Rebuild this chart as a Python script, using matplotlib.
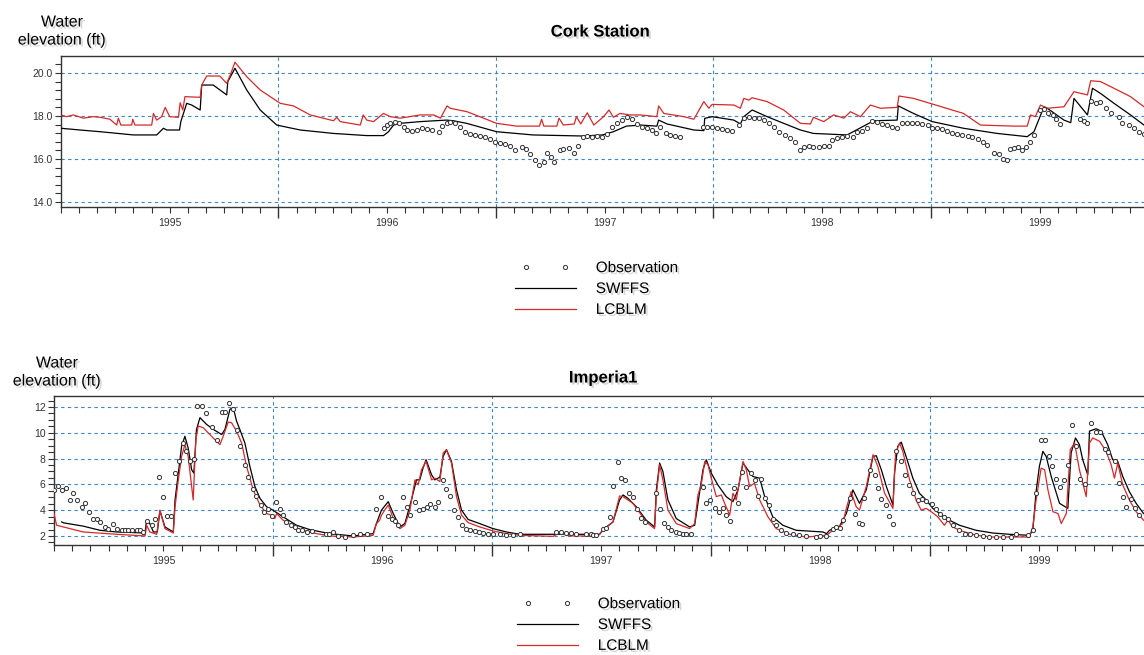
import numpy as np
import matplotlib.pyplot as plt
import matplotlib.patheffects as pe
from matplotlib.ticker import FixedLocator, FuncFormatter, MultipleLocator
from matplotlib.legend_handler import HandlerLine2D

plt.rcParams['font.family'] = ['Liberation Sans', 'DejaVu Sans']

# x values are years since 1995-01-01
# ---- Cork Station ----
cork_swffs_yr = [0, .087, .18, .333, .44, .471, .486, .545, .551, .578, .601, .64, .647, .70, .762, .767,
                 .80, .854, .916, .992, 1.10, 1.253, 1.406, 1.483, 1.506, 1.529, 1.56, 1.652, 1.773, 1.804,
                 1.865, 2.003, 2.17, 2.40, 2.49, 2.54, 2.60, 2.664, 2.74, 2.748, 2.787, 2.91, 2.956, 2.96,
                 2.994, 3.094, 3.124, 3.14, 3.178, 3.247, 3.323, 3.40, 3.46, 3.615, 3.737, 3.845, 3.85,
                 3.92, 4.006, 4.15, 4.305, 4.443, 4.474, 4.52, 4.535, 4.612, 4.643, 4.658, 4.72, 4.743,
                 4.78, 4.842, 4.918, 4.98]
cork_swffs = [17.43, 17.35, 17.27, 17.12, 17.12, 17.43, 17.35, 17.35, 17.74, 18.59, 18.51, 18.28, 19.44,
              19.44, 18.98, 19.6, 20.22, 19.21, 18.28, 17.58, 17.35, 17.19, 17.09, 17.09, 17.27, 17.58,
              17.66, 17.74, 17.81, 17.78, 17.66, 17.27, 17.12, 17.07, 17.12, 17.27, 17.53, 17.58, 17.53,
              17.81, 17.63, 17.35, 17.32, 17.89, 17.97, 17.81, 17.63, 17.97, 18.28, 17.97, 17.66, 17.35,
              17.19, 17.12, 17.78, 17.81, 18.47, 18.12, 17.74, 17.43, 17.19, 17.04, 17.27, 18.43, 18.36,
              17.81, 17.69, 18.82, 18.05, 19.29, 19.05, 18.59, 18.05, 17.58]

cork_lcblm_yr = [0, .026, .057, .103, .149, .18, .225, .256, .264, .275, .325, .33, .34, .417, .425, .44,
                 .463, .479, .50, .54, .548, .56, .57, .64, .647, .67, .73, .762, .778, .80, .854, .916,
                 1.008, 1.069, 1.146, 1.253, 1.268, 1.284, 1.376, 1.39, 1.406, 1.437, 1.483, 1.514, 1.56,
                 1.652, 1.714, 1.745, 1.775, 1.79, 1.867, 1.943, 2.003, 2.095, 2.20, 2.21, 2.22, 2.28,
                 2.29, 2.31, 2.36, 2.37, 2.39, 2.42, 2.45, 2.495, 2.52, 2.54, 2.57, 2.618, 2.664, 2.74,
                 2.748, 2.772, 2.864, 2.91, 2.956, 2.979, 2.994, 3.094, 3.124, 3.14, 3.163, 3.178, 3.247,
                 3.323, 3.40, 3.446, 3.46, 3.507, 3.553, 3.60, 3.63, 3.676, 3.722, 3.768, 3.845, 3.853,
                 3.92, 4.006, 4.15, 4.228, 4.38, 4.443, 4.458, 4.48, 4.504, 4.535, 4.612, 4.658, 4.72,
                 4.735, 4.78, 4.842, 4.918, 4.98]
cork_lcblm = [18.05, 17.97, 18.05, 17.9, 17.97, 17.94, 17.85, 17.58, 17.9, 17.58, 17.58, 17.85, 17.58,
              17.58, 18.12, 17.81, 17.97, 18.4, 17.97, 17.94, 18.62, 18.28, 18.9, 18.87, 19.44, 19.86,
              19.86, 19.52, 19.9, 20.5, 19.83, 19.21, 18.59, 18.47, 18.05, 17.78, 17.94, 17.74, 17.58,
              18.05, 17.81, 17.74, 18.12, 17.97, 17.9, 18.05, 18.05, 17.9, 18.47, 18.36, 18.2, 17.9,
              17.66, 17.53, 17.53, 17.85, 17.53, 17.53, 17.9, 17.58, 17.63, 17.97, 17.63, 18.15, 17.58,
              17.97, 18.28, 17.94, 18.12, 18.05, 18.05, 17.97, 18.47, 18.12, 17.97, 17.85, 18.67, 18.36,
              18.54, 18.51, 18.36, 18.82, 18.74, 18.85, 18.67, 18.28, 17.66, 17.63, 17.94, 17.74, 18.05,
              17.9, 18.2, 17.97, 18.51, 18.36, 18.4, 18.93, 18.82, 18.56, 18.12, 17.58, 17.53, 17.53,
              18.05, 17.97, 18.51, 18.36, 18.43, 19.13, 18.98, 19.64, 19.6, 19.29, 18.9, 18.43]

cork_obs_yr = [1.483, 1.498, 1.514, 1.537, 1.553, 1.575, 1.59, 1.614, 1.637, 1.66, 1.683, 1.706, 1.737,
               1.752, 1.775, 1.79, 1.813, 1.836, 1.859, 1.882, 1.905, 1.928, 1.951, 1.974, 1.997, 2.02,
               2.043, 2.066, 2.089, 2.12, 2.14, 2.158, 2.18, 2.2, 2.22, 2.235, 2.253, 2.268, 2.293, 2.31,
               2.334, 2.357, 2.376, 2.40, 2.42, 2.44, 2.465, 2.488, 2.51, 2.534, 2.557, 2.58, 2.603, 2.626,
               2.65, 2.672, 2.695, 2.718, 2.738, 2.756, 2.78, 2.80, 2.825, 2.848, 2.952, 2.97, 2.994,
               3.017, 3.04, 3.063, 3.086, 3.117, 3.14, 3.163, 3.186, 3.209, 3.232, 3.255, 3.278, 3.30,
               3.331, 3.354, 3.377, 3.397, 3.415, 3.438, 3.46, 3.485, 3.507, 3.53, 3.546, 3.57, 3.59,
               3.615, 3.64, 3.66, 3.685, 3.707, 3.73, 3.753, 3.776, 3.80, 3.822, 3.845, 3.868, 3.89,
               3.915, 3.938, 3.96, 3.985, 4.006, 4.03, 4.05, 4.075, 4.098, 4.12, 4.145, 4.17, 4.19, 4.215,
               4.238, 4.26, 4.29, 4.313, 4.333, 4.35, 4.364, 4.38, 4.4, 4.42, 4.438, 4.455, 4.476, 4.5,
               4.518, 4.54, 4.562, 4.577, 4.595, 4.688, 4.703, 4.72, 4.738, 4.757, 4.777, 4.804, 4.827,
               4.865, 4.88, 4.91, 4.933, 4.956, 4.98]
cork_obs = [17.43, 17.58, 17.69, 17.74, 17.69, 17.5, 17.35, 17.32, 17.35, 17.43, 17.38, 17.35, 17.24,
            17.53, 17.66, 17.74, 17.66, 17.47, 17.27, 17.16, 17.12, 17.07, 17.01, 16.91, 16.81, 16.76,
            16.7, 16.62, 16.42, 16.57, 16.45, 16.23, 15.95, 15.72, 15.88, 16.29, 16.11, 15.88, 16.42,
            16.45, 16.5, 16.26, 16.62, 17.01, 17.07, 17.04, 17.07, 17.04, 17.16, 17.47, 17.69, 17.81,
            17.94, 17.84, 17.63, 17.5, 17.43, 17.35, 17.19, 17.47, 17.22, 17.12, 17.07, 17.04, 17.5,
            17.5, 17.47, 17.43, 17.38, 17.35, 17.32, 17.58, 17.89, 17.97, 17.92, 17.89, 17.81, 17.66,
            17.47, 17.27, 17.12, 16.96, 16.81, 16.42, 16.57, 16.6, 16.57, 16.57, 16.6, 16.6, 16.88,
            16.96, 17.01, 17.07, 17.04, 17.27, 17.32, 17.43, 17.78, 17.74, 17.63, 17.58, 17.5, 17.43,
            17.66, 17.66, 17.66, 17.66, 17.63, 17.58, 17.43, 17.43, 17.38, 17.32, 17.22, 17.16, 17.12,
            17.07, 17.01, 16.91, 16.81, 16.65, 16.26, 16.23, 15.98, 15.95, 16.45, 16.5, 16.54, 16.42,
            16.57, 16.81, 17.12, 18.28, 18.31, 18.16, 18.05, 17.84, 17.63, 17.84, 17.78, 17.69, 18.71,
            18.62, 18.67, 18.36, 18.12, 17.94, 17.69, 17.58, 17.43, 17.27, 17.16]

# ---- Imperia1 ----
imp_swffs_yr = [.035, .043, .134, .21, .286, .408, .416, .423, .438, .454, .472, .484, .507, .545, .553,
                .568, .583, .598, .613, .629, .639, .651, .667, .697, .728, .766, .781, .804, .819, .834,
                .849, .872, .895, .918, .941, .971, 1.0, 1.047, 1.108, 1.169, 1.26, 1.367, 1.458, 1.473,
                1.496, 1.527, 1.55, 1.58, 1.603, 1.633, 1.656, 1.671, 1.686, 1.70, 1.725, 1.74, 1.763,
                1.778, 1.793, 1.816, 1.839, 1.862, 1.892, 1.945, 2.006, 2.067, 2.128, 2.493, 2.508, 2.554,
                2.584, 2.60, 2.622, 2.66, 2.706, 2.744, 2.752, 2.767, 2.782, 2.805, 2.843, 2.904, 2.927,
                2.942, 2.965, 2.98, 3.003, 3.033, 3.071, 3.102, 3.125, 3.148, 3.17, 3.193, 3.224, 3.247,
                3.284, 3.33, 3.391, 3.513, 3.53, 3.543, 3.589, 3.62, 3.65, 3.68, 3.711, 3.742, 3.757,
                3.78, 3.803, 3.833, 3.84, 3.855, 3.871, 3.893, 3.924, 3.954, 3.985, 4.015, 4.076, 4.137,
                4.213, 4.289, 4.365, 4.456, 4.472, 4.487, 4.502, 4.518, 4.533, 4.556, 4.594, 4.632, 4.647,
                4.667, 4.685, 4.7, 4.723, 4.731, 4.761, 4.784, 4.814, 4.837, 4.86, 4.883, 4.913, 4.944,
                4.978]
imp_swffs = [3.09, 3.02, 2.76, 2.44, 2.31, 2.23, 2.23, 3.22, 2.96, 2.31, 2.31, 3.95, 2.70, 2.31, 4.79,
             6.87, 8.95, 9.73, 8.82, 7.13, 6.87, 10.26, 11.17, 10.65, 10.26, 9.86, 10.26, 11.82, 11.95,
             10.91, 10.26, 9.21, 7.39, 5.83, 4.92, 4.27, 4.0, 3.48, 2.83, 2.49, 2.18, 2.0, 2.18, 2.96,
             4.0, 4.66, 3.74, 2.70, 2.96, 4.79, 6.35, 6.35, 7.26, 7.91, 6.74, 6.35, 6.56, 8.17, 8.69,
             7.78, 5.57, 4.0, 3.28, 2.96, 2.57, 2.31, 2.13, 2.13, 2.49, 3.09, 4.79, 5.18, 4.92, 4.27,
             3.22, 2.70, 5.57, 7.65, 7.0, 4.79, 3.35, 2.70, 2.83, 4.53, 7.13, 7.91, 6.87, 5.96, 5.05,
             4.66, 5.57, 7.65, 7.13, 6.61, 6.48, 5.05, 3.48, 2.83, 2.44, 2.31, 2.18, 2.44, 2.76, 3.74,
             5.57, 4.53, 5.57, 8.17, 8.22, 7.13, 5.83, 4.40, 6.87, 8.95, 9.27, 8.17, 6.48, 5.31, 4.79,
             4.14, 3.35, 2.83, 2.44, 2.23, 2.13, 2.05, 2.44, 5.44, 7.39, 8.56, 8.17, 6.61, 4.53, 4.14,
             8.43, 9.60, 9.08, 7.91, 6.74, 10.13, 10.31, 10.13, 9.08, 7.91, 7.78, 6.61, 5.44, 4.53, 3.74]

imp_lcblm_yr = [0, .012, .043, .134, .286, .416, .423, .438, .469, .484, .507, .545, .553, .568, .583,
                .598, .613, .629, .636, .648, .659, .682, .712, .735, .758, .773, .796, .811, .834, .857,
                .88, .91, .941, .971, .994, 1.009, 1.017, 1.047, 1.108, 1.199, 1.26, 1.367, 1.458, 1.473,
                1.488, 1.496, 1.511, 1.527, 1.55, 1.58, 1.603, 1.626, 1.649, 1.664, 1.679, 1.70, 1.725,
                1.74, 1.763, 1.778, 1.793, 1.816, 1.839, 1.862, 1.892, 1.945, 2.006, 2.067, 2.128, 2.28,
                2.31, 2.356, 2.486, 2.508, 2.554, 2.584, 2.60, 2.645, 2.706, 2.744, 2.752, 2.767, 2.782,
                2.805, 2.843, 2.904, 2.927, 2.942, 2.957, 2.973, 2.988, 3.003, 3.026, 3.049, 3.064, 3.087,
                3.102, 3.117, 3.14, 3.148, 3.163, 3.178, 3.2, 3.224, 3.262, 3.30, 3.361, 3.437, 3.53,
                3.558, 3.604, 3.62, 3.642, 3.665, 3.68, 3.711, 3.742, 3.764, 3.795, 3.833, 3.845, 3.863,
                3.878, 3.909, 3.939, 3.962, 3.985, 4.008, 4.038, 4.068, 4.084, 4.106, 4.137, 4.213, 4.289,
                4.456, 4.472, 4.487, 4.510, 4.526, 4.541, 4.564, 4.587, 4.602, 4.625, 4.643, 4.663, 4.685,
                4.716, 4.731, 4.746, 4.777, 4.807, 4.83, 4.845, 4.86, 4.883, 4.913, 4.944, 4.978]
imp_lcblm = [3.74, 2.83, 2.70, 2.31, 2.13, 2.0, 2.83, 2.31, 2.13, 4.0, 2.57, 2.23, 4.27, 6.35, 8.17,
             9.08, 8.17, 5.83, 4.79, 9.47, 10.52, 10.39, 9.86, 9.47, 9.08, 9.73, 10.83, 10.78, 10.13,
             9.21, 7.39, 5.57, 4.40, 3.74, 3.61, 3.35, 3.74, 3.22, 2.57, 2.18, 2.0, 1.92, 2.05, 2.96,
             3.22, 3.61, 4.0, 4.40, 3.35, 2.57, 2.83, 4.0, 6.35, 5.96, 7.13, 7.78, 6.35, 6.48, 6.22,
             8.43, 8.69, 7.65, 5.05, 3.61, 3.04, 2.70, 2.39, 2.18, 2.05, 1.97, 2.23, 2.0, 2.0, 2.44,
             3.09, 5.10, 5.05, 4.53, 3.09, 2.57, 5.18, 7.52, 6.35, 4.0, 2.96, 2.57, 2.96, 5.18, 5.96,
             7.78, 7.52, 6.48, 5.05, 5.18, 4.53, 3.61, 5.31, 4.79, 7.0, 7.78, 7.13, 5.83, 6.09, 4.79,
             3.48, 2.57, 2.13, 1.92, 2.05, 2.44, 2.96, 4.14, 5.44, 4.27, 4.0, 5.83, 8.30, 7.39, 5.31,
             4.14, 8.43, 9.21, 8.56, 6.35, 4.79, 4.0, 4.14, 3.88, 3.48, 2.83, 3.22, 2.70, 2.44, 2.05,
             1.92, 1.92, 2.70, 4.79, 7.26, 7.13, 5.57, 3.88, 3.74, 2.96, 3.74, 8.69, 9.21, 7.13, 5.05,
             9.21, 9.60, 9.34, 8.56, 7.52, 6.48, 7.65, 5.96, 4.79, 3.88, 3.22]

imp_obs_yr = [0, .02, .035, .055, .073, .088, .107, .126, .142, .161, .18, .195, .21, .233, .248, .268,
              .286, .309, .324, .339, .355, .377, .393, .408, .426, .446, .461, .478, .499, .514, .533,
              .553, .572, .588, .603, .621, .639, .654, .674, .694, .72, .743, .766, .781, .80, .816,
              .834, .849, .872, .887, .907, .925, .944, .959, .979, .997, 1.014, 1.032, 1.047, 1.062,
              1.085, 1.10, 1.116, 1.131, 1.154, 1.177, 1.245, 1.257, 1.275, 1.297, 1.328, 1.367, 1.397,
              1.428, 1.473, 1.493, 1.527, 1.542, 1.557, 1.572, 1.595, 1.613, 1.628, 1.651, 1.668, 1.686,
              1.702, 1.72, 1.74, 1.755, 1.775, 1.793, 1.81, 1.826, 1.846, 1.866, 1.884, 1.902, 1.922,
              1.942, 1.96, 1.983, 2.006, 2.037, 2.067, 2.097, 2.128, 2.295, 2.318, 2.341, 2.364, 2.384,
              2.432, 2.455, 2.463, 2.475, 2.508, 2.524, 2.539, 2.554, 2.577, 2.592, 2.608, 2.627, 2.645,
              2.664, 2.683, 2.699, 2.749, 2.767, 2.785, 2.805, 2.82, 2.84, 2.855, 2.874, 2.889, 2.912,
              2.965, 2.98, 2.995, 3.018, 3.037, 3.056, 3.071, 3.09, 3.105, 3.125, 3.145, 3.163, 3.186,
              3.204, 3.216, 3.231, 3.249, 3.266, 3.284, 3.30, 3.323, 3.346, 3.376, 3.406, 3.437, 3.483,
              3.498, 3.528, 3.559, 3.574, 3.589, 3.604, 3.635, 3.658, 3.68, 3.693, 3.703, 3.726, 3.749,
              3.764, 3.779, 3.799, 3.817, 3.833, 3.848, 3.871, 3.886, 3.906, 3.924, 3.947, 3.967, 3.982,
              4.012, 4.03, 4.046, 4.068, 4.084, 4.106, 4.134, 4.16, 4.183, 4.213, 4.244, 4.274, 4.304,
              4.335, 4.373, 4.396, 4.449, 4.472, 4.487, 4.51, 4.526, 4.545, 4.56, 4.579, 4.597, 4.614,
              4.632, 4.652, 4.67, 4.686, 4.709, 4.739, 4.759, 4.777, 4.8, 4.815, 4.846, 4.865, 4.886,
              4.899, 4.922, 4.937, 4.957]
imp_obs = [5.57, 5.88, 5.57, 5.70, 4.79, 5.31, 4.79, 4.21, 4.58, 3.82, 3.35, 3.28, 3.09, 2.70, 2.57,
           2.96, 2.57, 2.49, 2.44, 2.49, 2.44, 2.44, 2.44, 2.31, 3.17, 2.83, 3.35, 6.56, 4.99, 3.54, 3.54,
           6.87, 7.78, 9.21, 8.61, 7.78, 7.96, 12.08, 12.08, 11.56, 10.46, 9.47, 11.61, 11.61, 12.34,
           11.82, 10.18, 9.0, 7.52, 6.56, 5.65, 5.10, 4.40, 3.88, 4.08, 3.54, 4.66, 4.06, 3.61, 3.09,
           2.83, 2.70, 2.49, 2.44, 2.31, 2.39, 2.13, 2.13, 2.31, 1.97, 1.92, 2.05, 2.13, 2.13, 4.06,
           4.99, 3.54, 3.28, 3.17, 2.83, 4.99, 4.27, 3.61, 4.66, 4.0, 4.06, 4.21, 4.47, 4.21, 4.66, 6.35,
           5.62, 5.10, 4.0, 3.48, 2.83, 2.57, 2.44, 2.39, 2.31, 2.23, 2.13, 2.13, 2.13, 2.05, 2.05, 2.13,
           2.31, 2.31, 2.23, 2.23, 2.18, 2.13, 2.13, 2.05, 2.05, 2.57, 2.65, 3.48, 5.91, 7.70, 6.48,
           6.30, 5.31, 4.99, 4.06, 3.43, 3.09, 5.36, 4.06, 3.02, 2.70, 2.49, 2.31, 2.23, 2.13, 2.13,
           2.13, 5.83, 4.53, 4.79, 4.14, 3.88, 4.19, 3.61, 3.17, 5.70, 4.53, 6.92, 5.78, 6.87, 6.35,
           5.10, 6.40, 4.92, 4.40, 3.35, 2.83, 2.44, 2.23, 2.13, 2.05, 2.0, 1.92, 2.0, 2.0, 2.57, 2.70,
           2.63, 3.22, 4.92, 3.69, 3.02, 2.96, 4.92, 7.13, 6.74, 5.70, 4.84, 4.40, 3.54, 2.96, 8.56,
           7.78, 6.74, 5.96, 5.31, 4.79, 4.84, 4.73, 4.47, 4.06, 3.74, 3.48, 3.35, 2.83, 2.49, 2.18,
           2.13, 2.05, 1.97, 1.92, 1.92, 1.92, 1.92, 2.18, 2.05, 2.44, 5.36, 9.47, 9.47, 8.22, 7.39,
           6.40, 5.83, 6.35, 7.52, 10.57, 9.0, 6.40, 6.01, 10.78, 10.05, 10.05, 8.74, 8.48, 7.83, 6.09,
           5.05, 4.27, 4.84, 4.14, 3.61]

years = [1995, 1996, 1997, 1998, 1999]
series_names = ['Observation', 'SWFFS', 'LCBLM']

W, H = 1144, 655
fig = plt.figure(figsize=(W / 100, H / 100), dpi=100)

shadow = [pe.withSimplePatchShadow(offset=(1.5, -1.5), shadow_rgbFace='#888888', alpha=0.35)]
grid_kw = dict(color='#3d85c6', linestyle=(0, (3, 3)), linewidth=0.8)


def panel(rect, title, obs_t, obs_v, sw_t, sw_v, lc_t, lc_v, ylim, ymajor, yminor, fmt,
          title_xy, ylab_xy, leg_xy):
    ax = fig.add_axes(rect)
    ax.plot(1995 + np.array(sw_t), sw_v, color='black', lw=0.9, label=series_names[1], zorder=3)
    ax.plot(1995 + np.array(lc_t), lc_v, color='#d42a2a', lw=0.9, label=series_names[2], zorder=4)
    obs, = ax.plot(1995 + np.array(obs_t), obs_v, ls='none', marker='o', ms=3.0, mfc='white',
                   mec='#333333', mew=0.7, label=series_names[0], zorder=5)
    ax.set_xlim(1995, 1999.98)
    ax.set_ylim(*ylim)

    ax.xaxis.set_major_locator(FixedLocator(years[1:]))
    ax.xaxis.set_minor_locator(FixedLocator(1995 + np.arange(61) / 12))
    ax.xaxis.set_major_formatter(FuncFormatter(lambda v, p: ''))
    ax.xaxis.set_minor_formatter(FuncFormatter(
        lambda v, p: str(int(v)) if abs(v - int(v) - 0.5) < 1e-6 else ''))
    ax.tick_params(axis='x', which='major', length=8, width=1, direction='out', color='#333333')
    ax.tick_params(axis='x', which='minor', length=4, width=0.8, direction='out', color='#333333',
                   labelsize=7.5, pad=4, labelcolor='#333333')
    ax.yaxis.set_major_locator(MultipleLocator(ymajor))
    ax.yaxis.set_minor_locator(MultipleLocator(yminor))
    ax.yaxis.set_major_formatter(FuncFormatter(lambda v, p: fmt.format(v)))
    ax.tick_params(axis='y', which='both', length=4, width=0.8, direction='out', color='#333333',
                   labelsize=7.5, labelcolor='#333333', pad=2)
    ax.grid(True, which='major', **grid_kw)
    for s in ['top', 'left', 'bottom']:
        ax.spines[s].set_color('#333333')
        ax.spines[s].set_linewidth(1)
    ax.spines['right'].set_visible(False)

    fig.text(title_xy[0] / W, 1 - title_xy[1] / H, title, ha='center', va='center',
             fontsize=12, fontweight='bold', path_effects=shadow)
    fig.text(ylab_xy[0] / W, 1 - ylab_xy[1] / H, 'Water\nelevation (ft)', ha='center', va='center',
             fontsize=11.5, linespacing=1.25, path_effects=shadow)

    h, l = ax.get_legend_handles_labels()
    order = [2, 0, 1]
    leg = fig.legend([h[i] for i in order], [l[i] for i in order], loc='center',
                     bbox_to_anchor=(leg_xy[0] / W, 1 - leg_xy[1] / H), frameon=False,
                     fontsize=11, numpoints=2, handlelength=4.6, handletextpad=1.0,
                     labelspacing=0.45, handler_map={obs: HandlerLine2D(marker_pad=1.0)})
    for t in leg.get_texts():
        t.set_path_effects(shadow)
    return ax


panel([61 / W, 1 - 207 / H, (W - 61) / W, 151 / H], 'Cork Station',
      cork_obs_yr, cork_obs, cork_swffs_yr, cork_swffs, cork_lcblm_yr, cork_lcblm,
      (13.77, 20.79), 2.0, 0.4, '{:.1f}', (600, 32), (62, 31), (594, 289))
panel([54 / W, 1 - 545 / H, (W - 54) / W, 149 / H], 'Imperia1',
      imp_obs_yr, imp_obs, imp_swffs_yr, imp_swffs, imp_lcblm_yr, imp_lcblm,
      (1.3, 12.85), 2, 0.5, '{:.0f}', (603, 378), (57, 372), (596, 625))

fig.savefig('out.png', dpi=100)
